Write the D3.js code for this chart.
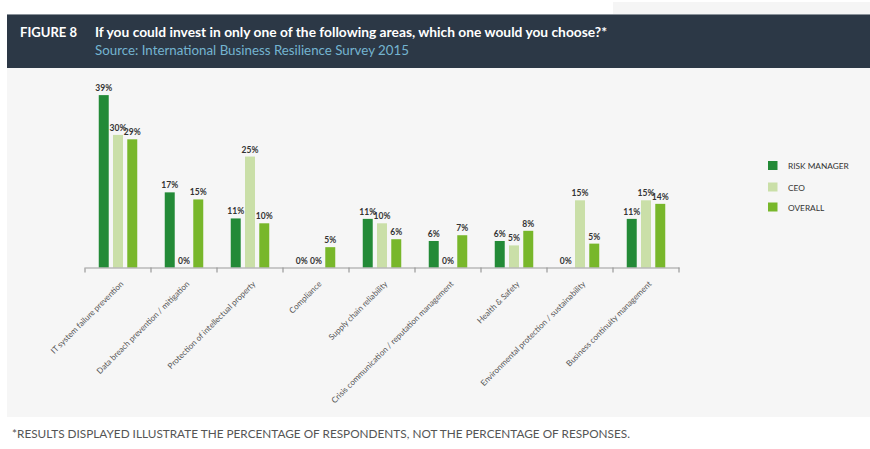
<!DOCTYPE html>
<html><head><meta charset="utf-8">
<script src="https://cdnjs.cloudflare.com/ajax/libs/d3/7.8.5/d3.min.js"></script>
<style>
html,body{margin:0;padding:0;background:#fff;}
svg{display:block;}
</style></head>
<body>
<svg id="chart" width="870" height="449"></svg>
<script>
const categories = [
  "IT system failure prevention",
  "Data breach prevention / mitigation",
  "Protection of intellectual property",
  "Compliance",
  "Supply chain reliability",
  "Crisis communication / reputation management",
  "Health & Safety",
  "Environmental protection / sustainability",
  "Business continuity management"
];
const seriesNames = ["RISK MANAGER", "CEO", "OVERALL"];
const riskManager = [39, 17, 11.1, 0, 11, 6, 6, 0, 11];
const ceo         = [30, 0, 25.1, 0, 10, 0, 5, 15.2, 15.2];
const overall     = [29, 15.4, 10, 4.6, 6.4, 7.3, 8.3, 5.4, 14.4];
const seriesColors = ["#238a37", "#cadfa8", "#78b72b"];
const titleLabel = "FIGURE 8";
const titleText = "If you could invest in only one of the following areas, which one would you choose?*";
const sourceText = "Source: International Business Resilience Survey 2015";
const footnote = "*RESULTS DISPLAYED ILLUSTRATE THE PERCENTAGE OF RESPONDENTS, NOT THE PERCENTAGE OF RESPONSES.";

const svg = d3.select("#chart");
const series = [riskManager, ceo, overall];

// backgrounds
svg.append("rect").attr("x", 613).attr("y", 2).attr("width", 257).attr("height", 13).attr("fill", "#f5f5f5");
svg.append("rect").attr("x", 7).attr("y", 68).attr("width", 863).attr("height", 349).attr("fill", "#f6f6f6");
svg.append("rect").attr("x", 7).attr("y", 14).attr("width", 863).attr("height", 54).attr("fill", "#2c3846");
svg.append("line").attr("x1", 7).attr("x2", 870).attr("y1", 14.5).attr("y2", 14.5).attr("stroke", "#8a929a").attr("stroke-width", 1);

// header text
svg.append("text").attr("x", 20).attr("y", 37).text(titleLabel)
  .attr("fill", "#fff").attr("font-family", "Lato").attr("font-weight", "bold").attr("font-size", 12.5)
  .attr("textLength", 57).attr("lengthAdjust", "spacingAndGlyphs");
svg.append("text").attr("x", 95).attr("y", 37).text(titleText)
  .attr("fill", "#fff").attr("font-family", "Lato").attr("font-weight", "bold").attr("font-size", 12.5)
  .attr("textLength", 512).attr("lengthAdjust", "spacingAndGlyphs");
svg.append("text").attr("x", 95).attr("y", 55).text(sourceText)
  .attr("fill", "#74b4d0").attr("font-family", "Lato").attr("font-size", 12.5)
  .attr("textLength", 314).attr("lengthAdjust", "spacingAndGlyphs");

// scales
const x = d3.scaleBand().domain(categories).range([85, 679]).padding(0);
const y = d3.scaleLinear().domain([0, 40]).range([267.5, 267.5 - 4.42 * 40]);
const sub = d3.scaleBand().domain(d3.range(3)).range([0, 38.5]).paddingInner(0.3).paddingOuter(0);

const g = svg.append("g");
categories.forEach((c, i) => {
  const cx = x(c) + x.bandwidth() / 2 - 19.25;
  series.forEach((s, k) => {
    const v = s[i];
    const bx = cx + sub(k);
    if (v > 0) {
      g.append("rect").attr("x", bx).attr("y", y(v)).attr("width", sub.bandwidth())
        .attr("height", y(0) - y(v)).attr("fill", seriesColors[k]);
    }
    g.append("text").attr("x", bx + sub.bandwidth() / 2).attr("y", y(v) - 4)
      .attr("text-anchor", "middle").attr("font-family", "Lato").attr("font-weight", "bold")
      .attr("font-size", 8.5).attr("fill", "#333").text(d3.format(".0f")(v) + "%");
  });
});

// axis
const axis = d3.axisBottom(x).tickSize(0).tickFormat("");
const ag = svg.append("g").attr("transform", `translate(0,${y(0)})`).call(axis);
ag.select(".domain").attr("stroke", "#999").attr("stroke-width", 1.2);
const bounds = categories.map(c => x(c)).concat([x.range()[1]]);
ag.selectAll(".bt").data(bounds).join("line").attr("class", "bt")
  .attr("x1", d => d).attr("x2", d => d).attr("y1", 0).attr("y2", 5)
  .attr("stroke", "#999").attr("stroke-width", 1.2);
ag.selectAll(".cl").data(categories).join("text").attr("class", "cl")
  .attr("transform", d => `translate(${x(d) + x.bandwidth() / 2 + 6},${17}) rotate(-45)`)
  .attr("text-anchor", "end").attr("font-family", "Lato").attr("font-size", 8.1)
  .attr("fill", "#555").text(d => d);

// legend
const lg = svg.append("g").attr("transform", "translate(768,161)");
seriesNames.forEach((n, k) => {
  const yy = [0, 21.5, 41.5][k];
  lg.append("rect").attr("x", 0).attr("y", yy).attr("width", 9.5).attr("height", 9).attr("fill", seriesColors[k]);
  lg.append("text").attr("x", 20).attr("y", yy + 8).text(n)
    .attr("font-family", "Lato").attr("font-size", 8.3).attr("fill", "#333");
});

// footnote
svg.append("text").attr("x", 12).attr("y", 438).text(footnote)
  .attr("font-family", "Lato").attr("font-size", 10.5).attr("fill", "#555")
  .attr("textLength", 618).attr("lengthAdjust", "spacingAndGlyphs");
</script>
</body></html>
